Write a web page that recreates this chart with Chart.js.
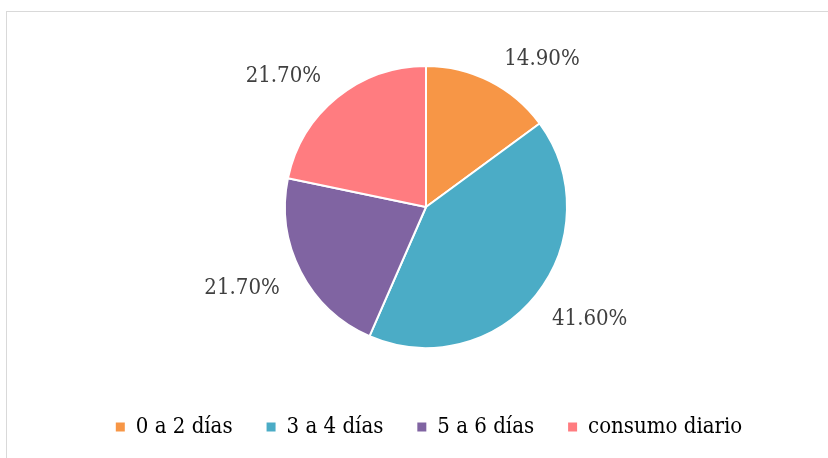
<!DOCTYPE html>
<html>
<head>
<meta charset="utf-8">
<script src="https://cdn.jsdelivr.net/npm/chart.js@4"></script>
<style>
    body { margin: 0; background: #fff; }
    #frame { position: absolute; left: 6px; top: 11px; width: 900px; height: 500px; border: 1px solid #d9d9d9; pointer-events: none; }
    #wrap { position: absolute; left: 0; top: 0; width: 828px; height: 458px; }
</style>
</head>
<body>
<div id="wrap"><canvas id="myChart"></canvas></div>
<div id="frame"></div>
<script>
let labels = ['0 a 2 días', '3 a 4 días', '5 a 6 días', 'consumo diario'];
let values = [14.9, 41.6, 21.7, 21.7];
const colors = ['#F79646', '#4BACC6', '#8064A2', '#FF7C80'];
const fontName = '"DejaVu Serif Condensed", "DejaVu Serif", serif';
// pequeños ajustes manuales de las etiquetas (como en Excel)
let labelNudge = [[6, 5], [1, 2], [-4, -2], [-4, 3]];

// etiquetas de porcentaje fuera del pastel
const outsideLabels = {
    id: 'outsideLabels',
    afterLayout(chart) {
        chart.legend.left += 3;
        chart.legend.right += 3;
    },
    afterDatasetsDraw(chart) {
        const ctx = chart.ctx;
        const meta = chart.getDatasetMeta(0);
        ctx.save();
        ctx.font = '22px ' + fontName;
        ctx.fillStyle = '#404040';
        ctx.textAlign = 'center';
        ctx.textBaseline = 'middle';
        meta.data.forEach((arc, i) => {
            const p = arc.getProps(['x', 'y', 'startAngle', 'endAngle', 'outerRadius'], true);
            const mid = (p.startAngle + p.endAngle) / 2;
            const d = p.outerRadius + 19;
            const text = values[i].toFixed(2) + '%';
            const w = ctx.measureText(text).width;
            let x = p.x + Math.cos(mid) * d;
            let y = p.y + Math.sin(mid) * d;
            x += Math.cos(mid) > 0 ? w / 2 : -w / 2;
            y += Math.sin(mid) > 0 ? 10 : -10;
            ctx.fillText(text, x + labelNudge[i][0], y + labelNudge[i][1]);
        });
        ctx.restore();
    }
};

function loadChart() {
    const ctx = document.getElementById('myChart');
    new Chart(ctx, {
        type: 'pie',
        data: {
            labels: labels,
            datasets: [{
                data: values,
                backgroundColor: colors,
                borderColor: '#ffffff',
                borderWidth: 2
            }]
        },
        options: {
            responsive: true,
            maintainAspectRatio: false,
            animation: false,
            radius: 141,
            layout: { padding: { top: 32, bottom: 10, left: 24, right: 0 } },
            plugins: {
                tooltip: { enabled: false },
                legend: {
                    position: 'bottom',
                    labels: {
                        boxWidth: 9,
                        boxHeight: 9,
                        padding: 34,
                        color: '#595959',
                        font: { family: fontName, size: 22 },
                        generateLabels(chart) {
                            return labels.map((l, i) => ({
                                text: l,
                                fillStyle: colors[i],
                                strokeStyle: colors[i],
                                lineWidth: 0,
                                index: i
                            }));
                        }
                    }
                }
            }
        },
        plugins: [outsideLabels]
    });
}

loadChart();
</script>
</body>
</html>
